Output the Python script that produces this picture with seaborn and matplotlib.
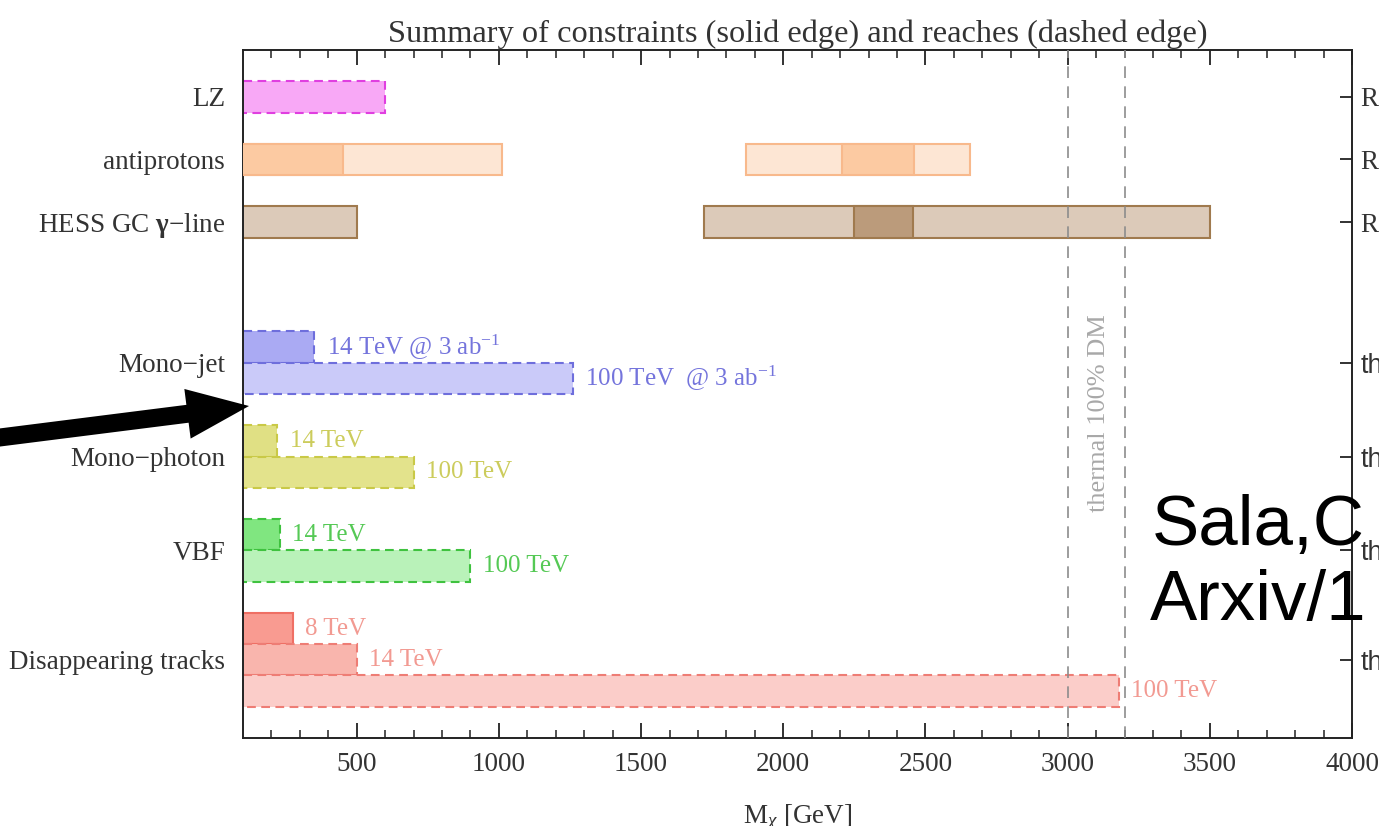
import numpy as np
import pandas as pd
import seaborn as sns
import matplotlib.pyplot as plt
from matplotlib.patches import FancyArrowPatch
from matplotlib.transforms import IdentityTransform

# ---------------- data (masses in GeV) ----------------
row_labels = ["LZ", "antiprotons", r"HESS GC $\mathbf{\gamma}$−line",
              "Mono−jet", "Mono−photon", "VBF", "Disappearing tracks"]
right_labels = ["R", "R", "R", "th", "th", "th", "th"]

lz_reach = [0, 600]
antiproton_wide = [(0, 1010), (1870, 2655)]
antiproton_core = [(0, 450), (2205, 2460)]
hess_wide = [(0, 500), (1720, 3500)]
hess_core = [(2250, 2455)]
monojet_reach = [350, 1260]          # 14 TeV, 100 TeV  @ 3 ab^-1
monophoton_reach = [220, 700]        # 14 TeV, 100 TeV
vbf_reach = [230, 900]               # 14 TeV, 100 TeV
disappearing_limit = [275]           # 8 TeV (solid)
disappearing_reach = [500, 3180]     # 14 TeV, 100 TeV
thermal_band = [3000, 3200]

collider_labels = ["14 TeV", "100 TeV"]
monojet_labels = [r"14 TeV @ 3 ab$^{-1}$", r"100 TeV  @ 3 ab$^{-1}$"]
disappearing_labels = ["8 TeV", "14 TeV", "100 TeV"]

x_ticks = [500, 1000, 1500, 2000, 2500, 3000, 3500, 4000]

# ---------------- style ----------------
sns.set_theme(style="ticks")
plt.rcParams["font.family"] = ["Liberation Serif", "DejaVu Serif"]
plt.rcParams["mathtext.fontset"] = "custom"
plt.rcParams["mathtext.rm"] = "Liberation Serif"
plt.rcParams["mathtext.it"] = "Liberation Serif:italic"
plt.rcParams["mathtext.bf"] = "Liberation Serif:bold"

W, H = 1379, 826
fig = plt.figure(figsize=(W / 100, H / 100), dpi=100)
ax = fig.add_axes([243 / W, 1 - 738 / H, 1109 / W, 688 / H])

DASH = (0, (4.2, 2.6))


def span(top, start, end, face, edge, dashed, z=2):
    ax.barh(top + 0.5, end - start, left=start, height=1.0,
            color=face, edgecolor=edge, linewidth=1.5,
            linestyle=DASH if dashed else "-", zorder=z)


def tag(text, end, top, color):
    ax.annotate(text, xy=(end, top + 0.5), xytext=(9, 0),
                textcoords="offset points", va="center", ha="left",
                color=color, fontsize=18, zorder=5)


# LZ
span(1, *lz_reach, "#f8a8f6", "#e03fe0", True)

# antiprotons
for s, e in antiproton_wide:
    span(3, s, e, "#fde6d4", "#f8b98c", False)
for s, e in antiproton_core:
    span(3, s, e, "#fccaa2", "#f8b98c", False, z=3)

# HESS gamma line
for s, e in hess_wide:
    span(5, s, e, "#dccab9", "#a07a4e", False)
for s, e in hess_core:
    span(5, s, e, "#bb9b7b", "#a07a4e", False, z=3)

# Mono-jet
span(9, 0, monojet_reach[0], "#aaaaf3", "#6e6edc", True)
span(10, 0, monojet_reach[1], "#cacaf9", "#6e6edc", True)
tag(monojet_labels[0], monojet_reach[0], 9, "#7474dc")
tag(monojet_labels[1], monojet_reach[1], 10, "#7474dc")

# Mono-photon
span(12, 0, monophoton_reach[0], "#e0e084", "#c9c947", True)
span(13, 0, monophoton_reach[1], "#e3e38c", "#c9c947", True)
tag(collider_labels[0], monophoton_reach[0], 12, "#cccc5c")
tag(collider_labels[1], monophoton_reach[1], 13, "#cccc5c")

# VBF
span(15, 0, vbf_reach[0], "#80e680", "#3fc23f", True)
span(16, 0, vbf_reach[1], "#b9f2b9", "#3fc23f", True)
tag(collider_labels[0], vbf_reach[0], 15, "#55c955")
tag(collider_labels[1], vbf_reach[1], 16, "#55c955")

# Disappearing tracks
span(18, 0, disappearing_limit[0], "#f99b91", "#ef6f64", False)
span(19, 0, disappearing_reach[0], "#f9b5ad", "#ee7d75", True)
span(20, 0, disappearing_reach[1], "#fbcdc9", "#ee7d75", True)
tag(disappearing_labels[0], disappearing_limit[0], 18, "#f29a92")
tag(disappearing_labels[1], disappearing_reach[0], 19, "#f29a92")
tag(disappearing_labels[2], disappearing_reach[1], 20, "#f29a92")

# thermal relic band
for xv in thermal_band:
    ax.axvline(xv, color="#8c8c8c", lw=1.2, linestyle=(0, (7, 5)), zorder=4)
ax.text(np.mean(thermal_band) + 10, 11.6, "thermal 100% DM", rotation=90,
        ha="center", va="center", color="#a8a8a8", fontsize=19, zorder=5)

# ---------------- axes ----------------
ax.set_xlim(100, 4000)
ax.set_ylim(22, 0)
row_pos = [1.5, 3.5, 5.5, 10, 13, 16, 19.5]
ax.set_yticks(row_pos)
ax.set_yticklabels(row_labels, fontsize=19.5, color="#333333")
ax.set_xticks(x_ticks)
ax.set_xticklabels([str(t) for t in x_ticks], fontsize=19.5, color="#333333")
ax.set_xticks(np.arange(200, 4000, 100), minor=True)
ax.tick_params(axis="x", which="major", direction="in", length=11, width=1.3,
               top=True, pad=10, color="#222222")
ax.tick_params(axis="x", which="minor", direction="in", length=6, width=1.1,
               top=True, color="#222222")
ax.tick_params(axis="y", which="major", direction="in", length=9, width=1.3,
               pad=13, color="#222222")
for sp in ax.spines.values():
    sp.set_color("#222222")
    sp.set_linewidth(1.4)

ax2 = ax.twinx()
ax2.set_ylim(22, 0)
ax2.set_yticks(row_pos)
ax2.set_yticklabels(right_labels, fontsize=19.5, color="#333333")
ax2.tick_params(axis="y", direction="in", length=9, width=1.3, pad=6,
                color="#222222")
for lab, txt in zip(ax2.get_yticklabels(), right_labels):
    if txt == "th":
        lab.set_fontfamily("Liberation Sans")
for sp in ax2.spines.values():
    sp.set_visible(False)

ax.set_title("Summary of constraints (solid edge) and reaches (dashed edge)",
             fontsize=23.3, color="#333333", pad=6)
ax.set_xlabel(r"M$_{\chi}$ [GeV]", fontsize=19.5, color="#333333")
ax.xaxis.set_label_coords(0.5, -0.093)

# ---------------- overlay annotations ----------------
arrow = FancyArrowPatch(
    posA=(-20, H - 440), posB=(249, H - 406),
    arrowstyle=f"simple,head_length={62 / 1.389},head_width={50 / 1.389},tail_width={18 / 1.389}",
    mutation_scale=1, transform=IdentityTransform(), color="black",
    lw=0, shrinkA=0, shrinkB=0, zorder=10)
fig.add_artist(arrow)

fig.text(1152 / W, 1 - 545 / H, "Sala,C", fontsize=51, family="Liberation Sans",
         ha="left", va="baseline", color="black", zorder=10)
fig.text(1150 / W, 1 - 620 / H, "Arxiv/1", fontsize=51, family="Liberation Sans",
         ha="left", va="baseline", color="black", zorder=10)

fig.savefig("out.png", dpi=100)
